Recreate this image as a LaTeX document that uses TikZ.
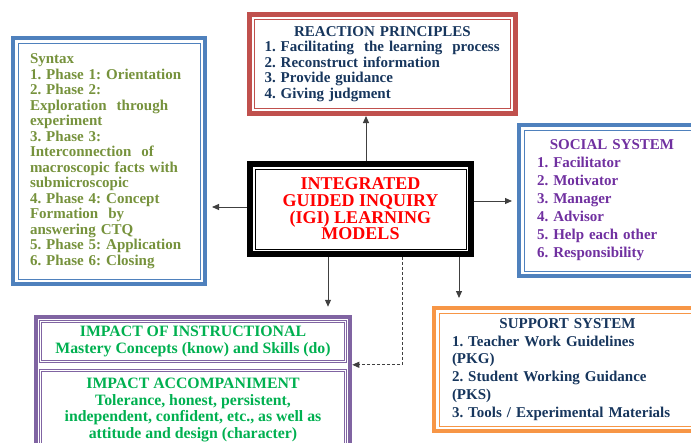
\documentclass[tikz,border=0pt]{standalone}
\usepackage{fontspec}
\setmainfont{Liberation Serif}
\usetikzlibrary{positioning, arrows.meta}

\definecolor{frameblue}{RGB}{79,129,189}
\definecolor{framered}{RGB}{192,80,77}
\definecolor{frameorange}{RGB}{247,150,70}
\definecolor{framepurple}{RGB}{128,100,162}
\definecolor{olivetext}{RGB}{118,146,60}
\definecolor{navytext}{RGB}{23,54,93}
\definecolor{purpletext}{RGB}{112,48,160}
\definecolor{greentext}{RGB}{0,176,80}

\frenchspacing
\hyphenpenalty=10000
\exhyphenpenalty=10000

\begin{document}
\begin{tikzpicture}[x=1pt, y=-1pt,
    frame/.style={draw=#1, line width=4pt,
        path picture={\draw[#1, line width=0.9pt]
            ([shift={(5pt,-5pt)}]path picture bounding box.north west) rectangle
            ([shift={(-5pt,5pt)}]path picture bounding box.south east);}},
    boxtext/.style={font=\fontsize{15}{#1}\selectfont\bfseries, inner sep=0pt},
    impacttext/.style={font=\fontsize{15.8}{#1}\selectfont\bfseries, inner sep=0pt},
    thinframe/.style={draw=framepurple, double, double distance=1.5pt, line width=0.6pt},
    arr/.style={draw=black!75, line width=1pt, -{Triangle[length=7pt,width=6pt]}}]
    \useasboundingbox (0,0) rectangle (691,442);
    \clip (0,0) rectangle (691,442);

    % centre
    \node[frame=black, line width=5.5pt, minimum width=221pt, minimum height=90pt,
        inner sep=0pt, align=center, text=red,
        font=\fontsize{18}{16.7}\selectfont\bfseries] (igi) at (360.5,209)
    {INTEGRATED\\GUIDED INQUIRY\\(IGI) LEARNING\\MODELS};

    % syntax
    \node[frame=frameblue, minimum width=192pt, minimum height=246pt,
        boxtext=15.5, text width=158pt, align=left, text=olivetext] (syn) at (109,161)
    {Syntax\\
     1. Phase 1: Orientation\\
     2. Phase 2:\\
     Exploration\ \ through\\
     experiment\\
     3. Phase 3:\\
     Interconnection\ \ of\\
     macroscopic facts with\\
     submicroscopic\\
     4. Phase 4: Concept\\
     Formation\ \ by\\
     answering CTQ\\
     5. Phase 5: Application\\
     6. Phase 6: Closing};

    % reaction principles
    \node[frame=framered, line width=5pt, minimum width=266pt, minimum height=99pt,
        boxtext=15.5, text width=236pt, align=left, text=navytext] (rp) at (382.5,64)
    {{\centering REACTION PRINCIPLES\par}
     1. Facilitating\ \ the learning\ \ process\\
     2. Reconstruct information\\
     3. Provide guidance\\
     4. Giving judgment};

    % social system
    \node[frame=frameblue, minimum width=186pt, minimum height=151pt,
        boxtext=18, text width=150pt, align=left, text=purpletext] (ss) at (612,200.5)
    {{\centering SOCIAL SYSTEM\par}
     1. Facilitator\\
     2. Motivator\\
     3. Manager\\
     4. Advisor\\
     5. Help each other\\
     6. Responsibility};

    % support system
    \node[frame=frameorange, minimum width=267pt, minimum height=123pt,
        boxtext=17.8, text width=231pt, align=left, text=navytext] (sup) at (567.5,369.5)
    {{\centering SUPPORT SYSTEM\par}
     1. Teacher Work Guidelines\\
     (PKG)\\
     2. Student Working Guidance\\
     (PKS)\\
     3. Tools / Experimental Materials};

    % impacts
    \node[draw=framepurple, line width=4.5pt, minimum width=314pt,
        minimum height=136pt] (impact) at (193,385) {};
    \node[thinframe, minimum width=305pt, minimum height=40pt,
        impacttext=17, align=center, text=greentext] (instr) at (193,341.5)
    {IMPACT OF INSTRUCTIONAL\\Mastery Concepts (know) and Skills (do)};
    \node[thinframe, minimum width=305pt, minimum height=79pt,
        impacttext=16.5, align=center, text=greentext] (accomp) at (193,410)
    {IMPACT ACCOMPANIMENT\\Tolerance, honest, persistent,\\
     independent, confident, etc., as well as\\attitude and design (character)};

    % connectors
    \coordinate (rpfoot) at ([xshift=-16.5]rp.south);
    \draw[arr] (igi.north -| rpfoot) -- (rpfoot);
    \coordinate (igir) at ([yshift=8]igi.east);
    \draw[arr, shorten >=5pt] (igir) -- (igir -| ss.west);
    \coordinate (igil) at ([yshift=2]igi.west);
    \draw[arr, shorten >=5pt] (igil) -- (igil -| syn.east);
    \coordinate (igid) at ([xshift=-32.5]igi.south);
    \draw[arr, shorten >=8pt] (igid) -- (igid |- impact.north);
    \coordinate (igis) at ([xshift=98.5]igi.south);
    \draw[arr, shorten >=8pt] (igis) -- (igis |- sup.north);
    \coordinate (igim) at ([xshift=41.5]igi.south);
    \coordinate (gapl) at ([yshift=-3]instr.south);
    \draw[arr, dash pattern=on 3pt off 2pt] (igim) |- (gapl -| impact.east);
\end{tikzpicture}
\end{document}
